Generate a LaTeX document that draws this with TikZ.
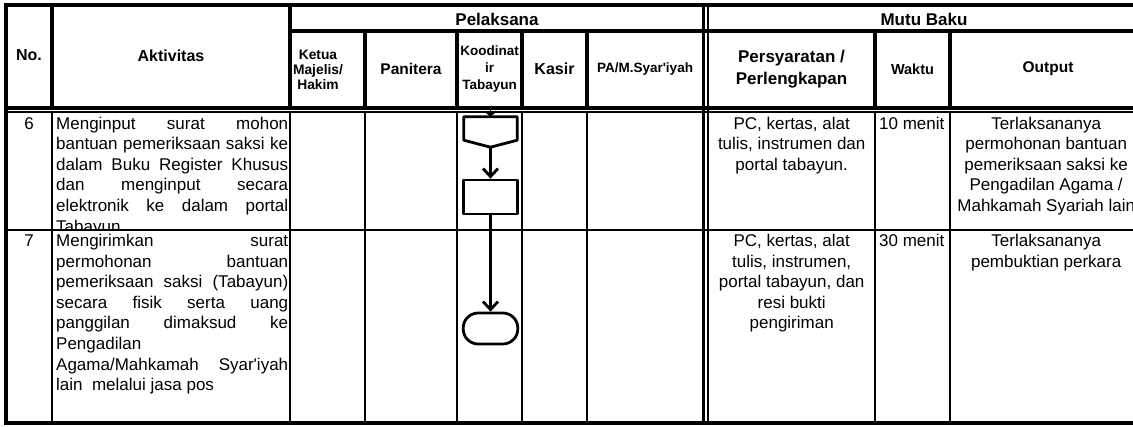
\documentclass[tikz,border=0pt]{standalone}
\usepackage{fontspec}
\setmainfont{Liberation Sans}[Ligatures=TeXOff]
\usetikzlibrary{arrows.meta}

\newcommand{\fs}[2]{\fontsize{#1}{#2}\selectfont}
\newcommand{\jline}[1]{\makebox[\linewidth][s]{#1}}

\tikzset{
  thickrule/.style={line width=3.2pt},
  thinrule/.style={line width=1.8pt},
  head/.style={font=\bfseries\fs{16}{18}, align=center, inner sep=0pt},
  body/.style={font=\fs{17}{20.6}, inner sep=0pt, anchor=base west},
  flowbox/.style={draw, line width=2.8pt, line join=round, minimum width=54.6pt, inner sep=0pt},
  flow/.style={line width=2.8pt, -{Straight Barb[length=8pt,width=15pt]}},
}

\begin{document}
\begin{tikzpicture}[x=1pt, y=-1pt]
  \def\rowsix{129}
  \def\rowseven{246.5}
  \def\xR{1142}
  \useasboundingbox (0,0) rectangle (1133,426);

  %kerangka
  \draw[line width=4pt] (6,3.4) -- (6,425);
  \draw[thickrule] (6,5) -- (\xR,5);
  \draw[thickrule] (290,31) -- (\xR,31);
  \draw[thickrule] (6,108) -- (\xR,108);
  \draw[thinrule] (6,112.3) -- (\xR,112.3);
  \draw[thinrule] (6,230) -- (\xR,230);
  \draw[line width=4.5pt] (6,422.8) -- (\xR,422.8);
  \foreach \x in {52,290} \draw[thickrule] (\x,5) -- (\x,108);
  \foreach \x in {365,457,522,587,875,950} \draw[thickrule] (\x,31) -- (\x,108);
  \foreach \x in {52,290,365,457,522,587,875,950} \draw[thinrule] (\x,112.3) -- (\x,422.8);
  \draw[thickrule] (703.3,5) -- (703.3,422.8);
  \draw[thinrule] (708,5) -- (708,422.8);

  %kepala tabel
  \node[head] (hNo) at (29,55.5) {No.};
  \node[head] (hAkt) at (171,55.5) {Aktivitas};
  \node[head, font=\bfseries\fs{17}{19}] (hPel) at (497,19) {Pelaksana};
  \node[head, font=\bfseries\fs{17}{19}] (hMutu) at (924,19) {Mutu Baku};
  \node[head, font=\bfseries\fs{13.8}{15}] (hKetua) at (318,70) {Ketua\\Majelis/\\Hakim};
  \node[head, font=\bfseries\fs{15.5}{18}] (hPan) at (411,69) {Panitera};
  \node[head, font=\bfseries\fs{13.5}{17}] (hKoor) at (489.5,69.5) {Koodinat\\ir\\Tabayun};
  \node[head] (hKasir) at (554.5,69) {Kasir};
  \node[head, font=\bfseries\fs{13.5}{16}] (hPA) at (645,69) {PA/M.Syar'iyah};
  \node[head, font=\bfseries\fs{17}{22}] (hSyarat) at (791.5,69) {Persyaratan /\\Perlengkapan};
  \node[head, font=\bfseries\fs{14.5}{17}] (hWaktu) at (912.5,69) {Waktu};
  \node[head, font=\bfseries\fs{15.5}{18}] (hOut) at (1048,69) {Output};

  %baris 6
  \node[body, anchor=base] (no6) at (29,\rowsix) {6};
  \begin{scope}
    \clip (52,112) rectangle (290,229);
    \node[body] (akt6) at (56,\rowsix) {\parbox[t]{232pt}{\jline{Menginput surat mohon}\\
      \jline{bantuan pemeriksaan saksi ke}\\ \jline{dalam Buku Register Khusus}\\
      \jline{dan menginput secara}\\ \jline{elektronik ke dalam portal}\\ Tabayun.}};
  \end{scope}
  \node[body] (syarat6) at (708,\rowsix) {\parbox[t]{167pt}{\centering PC, kertas, alat\\tulis, instrumen dan\\portal tabayun.}};
  \node[body] (waktu6) at (879,\rowsix) {10 menit};
  \node[body] (out6) at (950,\rowsix) {\parbox[t]{192pt}{\centering Terlaksananya\\permohonan bantuan\\pemeriksaan saksi ke\\Pengadilan Agama /\\Mahkamah Syariah lain}};

  %baris 7
  \node[body, anchor=base] (no7) at (29,\rowseven) {7};
  \node[body] (akt7) at (56,\rowseven) {\parbox[t]{232pt}{\jline{Mengirimkan surat}\\
      \jline{permohonan bantuan}\\ \jline{pemeriksaan saksi (Tabayun)}\\
      \jline{secara fisik serta uang}\\ \jline{panggilan dimaksud ke}\\ Pengadilan\\
      \jline{Agama/Mahkamah Syar'iyah}\\ lain\ \ melalui jasa pos}};
  \node[body] (syarat7) at (708,\rowseven) {\parbox[t]{167pt}{\centering PC, kertas, alat\\tulis, instrumen,\\portal tabayun, dan\\resi bukti\\pengiriman}};
  \node[body] (waktu7) at (879,\rowseven) {30 menit};
  \node[body] (out7) at (950,\rowseven) {\parbox[t]{192pt}{\centering Terlaksananya\\pembuktian perkara}};

  %alur
  \node[minimum width=53pt, minimum height=30pt, inner sep=0pt] (conn6) at (490.5,132) {};
  \draw[line width=2.8pt, line join=round] (conn6.north west) -- (conn6.north east)
    -- ([yshift=7pt]conn6.south east) -- (conn6.south) -- ([yshift=7pt]conn6.south west) -- cycle;
  \node[flowbox, minimum height=34pt] (proc6) at (490.5,197) {};
  \node[flowbox, minimum height=31pt, rounded corners=15pt] (end7) at (490.5,328.5) {};
  \coordinate (from5) at (490.5,106);
  \draw[line width=1.5pt, -{Triangle[length=4pt,width=9pt]}] (from5) -- (conn6.north);
  \draw[flow] (conn6.south) -- (proc6.north);
  \draw[flow] (proc6.south) -- (end7.north);
\end{tikzpicture}
\end{document}
